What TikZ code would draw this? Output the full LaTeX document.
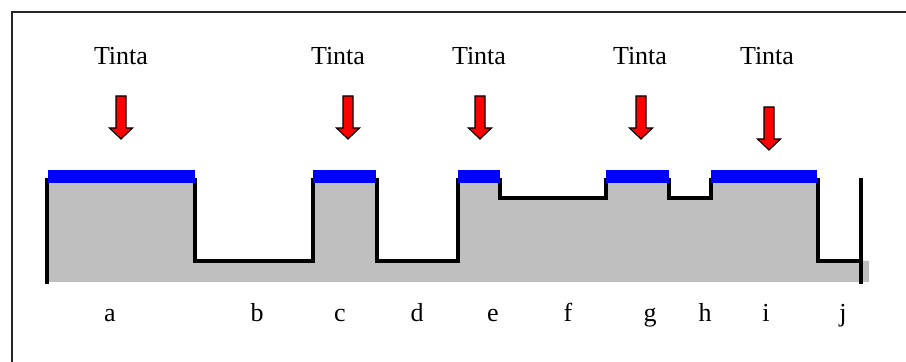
\documentclass[tikz,border=0pt]{standalone}
\usepackage{fontspec}
\setmainfont{Liberation Serif}
\begin{document}
\begin{tikzpicture}[x=0.5pt,y=-0.5pt,
  lbl/.style={font=\fontsize{13}{15}\selectfont, inner sep=0pt, anchor=base},
  profile/.style={line width=2.25pt, line cap=rect, line join=miter},
  inkbar/.style={fill=blue, draw=none},
  inkarrow/.pic={\draw[fill=red, draw=black, line width=0.6pt, line join=miter]
     (-5,0) -- (5,0) -- (5,32) -- (11.5,32) -- (0,43) -- (-11.5,32) -- (-5,32) -- cycle;}]
\useasboundingbox (0,0) rectangle (906,362);
% outer frame
\draw[line width=1pt, black!85] (12,362) -- (12,12) -- (906,12);
% substrate
\fill[black!25] (47,178) -- (195,178) -- (195,261) -- (313,261) -- (313,178) -- (377,178)
  -- (377,261) -- (458,261) -- (458,178) -- (500,178) -- (500,198) -- (606,198)
  -- (606,178) -- (669,178) -- (669,198) -- (711,198) -- (711,178) -- (818,178)
  -- (818,261) -- (869,261) -- (869,282) -- (47,282) -- cycle;
% relief outline
\draw[profile] (47,282) -- (47,180);
\draw[profile] (195,180) -- (195,261) -- (313,261) -- (313,180);
\draw[profile] (377,180) -- (377,261) -- (458,261) -- (458,180);
\draw[profile] (500,180) -- (500,198) -- (606,198) -- (606,180);
\draw[profile] (669,180) -- (669,198) -- (711,198) -- (711,180);
\draw[profile] (818,180) -- (818,261) -- (861,261);
\draw[profile] (861,180) -- (861,282);
% ink layers on the raised areas
\fill[inkbar] (48,170) rectangle (195,183);
\fill[inkbar] (313,170) rectangle (376,183);
\fill[inkbar] (458,170) rectangle (500,183);
\fill[inkbar] (606,170) rectangle (669,183);
\fill[inkbar] (711,170) rectangle (817,183);
% ink arrows and labels
\pic at (121,96) {inkarrow};
\pic at (348,96) {inkarrow};
\pic at (480,96) {inkarrow};
\pic at (641,96) {inkarrow};
\pic at (769,107) {inkarrow};
\node[lbl] (t1) at (121,65) {Tinta};
\node[lbl] (t2) at (338,65) {Tinta};
\node[lbl] (t3) at (479,65) {Tinta};
\node[lbl] (t4) at (640,65) {Tinta};
\node[lbl] (t5) at (767,65) {Tinta};
% region letters
\node[lbl] (la) at (110,322) {a};
\node[lbl] (lb) at (257,322) {b};
\node[lbl] (lc) at (340,322) {c};
\node[lbl] (ld) at (417,322) {d};
\node[lbl] (le) at (493,322) {e};
\node[lbl] (lf) at (568,322) {f};
\node[lbl] (lg) at (650,322) {g};
\node[lbl] (lh) at (705,322) {h};
\node[lbl] (li) at (766,322) {i};
\node[lbl] (lj) at (843,322) {j};
\end{tikzpicture}
\end{document}
